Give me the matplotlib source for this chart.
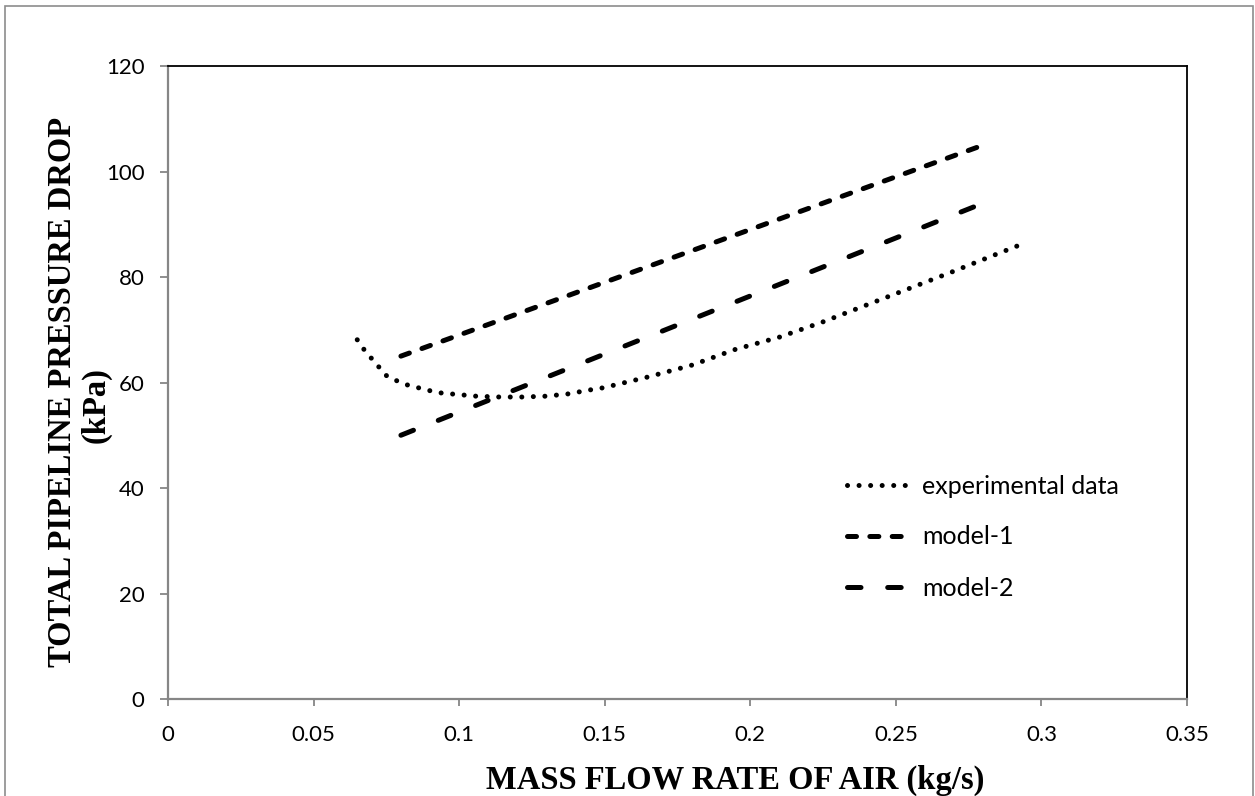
import matplotlib
matplotlib.use("Agg")
import matplotlib.pyplot as plt
from matplotlib.patches import Rectangle

# experimental curve
exp_x = [0.065, 0.0674, 0.070, 0.0725, 0.0752, 0.0787, 0.0824, 0.086, 0.0903, 0.094,
         0.098, 0.102, 0.106, 0.114, 0.1216, 0.1295, 0.137, 0.145, 0.1495, 0.1645,
         0.180, 0.195, 0.210, 0.225, 0.247, 0.269, 0.284, 0.295]
exp_y = [68.1, 66.2, 64.5, 62.9, 61.2, 60.3, 59.5, 59.0, 58.4, 58.0,
         57.8, 57.6, 57.4, 57.25, 57.25, 57.4, 57.8, 58.6, 59.0, 61.0,
         63.3, 66.3, 68.6, 71.5, 76.2, 80.9, 84.2, 86.6]

m1_x = [0.08, 0.13, 0.18, 0.23, 0.28]
m1_y = [65, 75, 85, 95, 105]

m2_x = [0.08, 0.13, 0.18, 0.23, 0.28]
m2_y = [50, 61, 72, 83, 94]

xticks = [0, 0.05, 0.1, 0.15, 0.2, 0.25, 0.3, 0.35]
xtick_labels = ['0', '0.05', '0.1', '0.15', '0.2', '0.25', '0.3', '0.35']
yticks = [0, 20, 40, 60, 80, 100, 120]

W, H = 1255, 796
fig = plt.figure(figsize=(W / 100, H / 100), dpi=100)
ax = fig.add_axes([168 / W, 1 - 699 / H, (1187 - 168) / W, (699 - 66) / H])

lw = 3.6
ax.plot(exp_x, exp_y, color='black', lw=lw, linestyle=(0, (0.01, 2.3)),
        dash_capstyle='round', label='experimental data')
ax.plot(m1_x, m1_y, color='black', lw=lw, linestyle=(0, (1.8, 2.67)),
        dash_capstyle='round', label='model-1')
ax.plot(m2_x, m2_y, color='black', lw=lw, linestyle=(0, (2.7, 5.34)),
        dash_capstyle='round', label='model-2')

ax.set_xlim(0, 0.35)
ax.set_ylim(0, 120)
ax.set_xticks(xticks)
ax.set_xticklabels(xtick_labels)
ax.set_yticks(yticks)

gray = '#868686'
for s in ['left', 'bottom']:
    ax.spines[s].set_color(gray)
    ax.spines[s].set_linewidth(1.6)
for s in ['top', 'right']:
    ax.spines[s].set_color('black')
    ax.spines[s].set_linewidth(1.3)

tick_font = 'Lato'
ax.tick_params(axis='y', direction='out', length=5.8, width=1.3, color=gray,
               pad=11, labelsize=16)
ax.tick_params(axis='x', direction='out', length=5.2, width=1.3, color=gray,
               pad=13.5, labelsize=16)
for t in ax.get_xticklabels() + ax.get_yticklabels():
    t.set_fontfamily(tick_font)

leg = ax.legend(loc='center left', bbox_to_anchor=(834.5 / W, 1 - 537 / H),
                bbox_transform=fig.transFigure, frameon=False, borderpad=0,
                handlelength=2.32, handletextpad=0.7, labelspacing=1.12,
                prop={'family': tick_font, 'size': 18})

serif = 'Liberation Serif'
fig.text(735.5 / W, 1 - 789 / H, 'MASS FLOW RATE OF AIR (kg/s)', ha='center',
         va='baseline', fontsize=23.5, fontweight='bold', family=serif)
fig.text(63 / W, 1 - 392 / H, 'TOTAL PIPELINE PRESSURE DROP', ha='center',
         va='center', rotation=90, fontsize=23.5, fontweight='bold', family=serif)
fig.text(96 / W, 1 - 405 / H, '(kPa)', ha='center', va='center', rotation=90,
         fontsize=23.5, fontweight='bold', family=serif)

# outer chart border
fig.patches.append(Rectangle((5 / W, -0.02), (1253 - 5) / W, 1.02 - 6 / H,
                             transform=fig.transFigure, fill=False,
                             edgecolor='#8c8c8c', lw=1.2, clip_on=False))

fig.savefig('out.png', dpi=100)
